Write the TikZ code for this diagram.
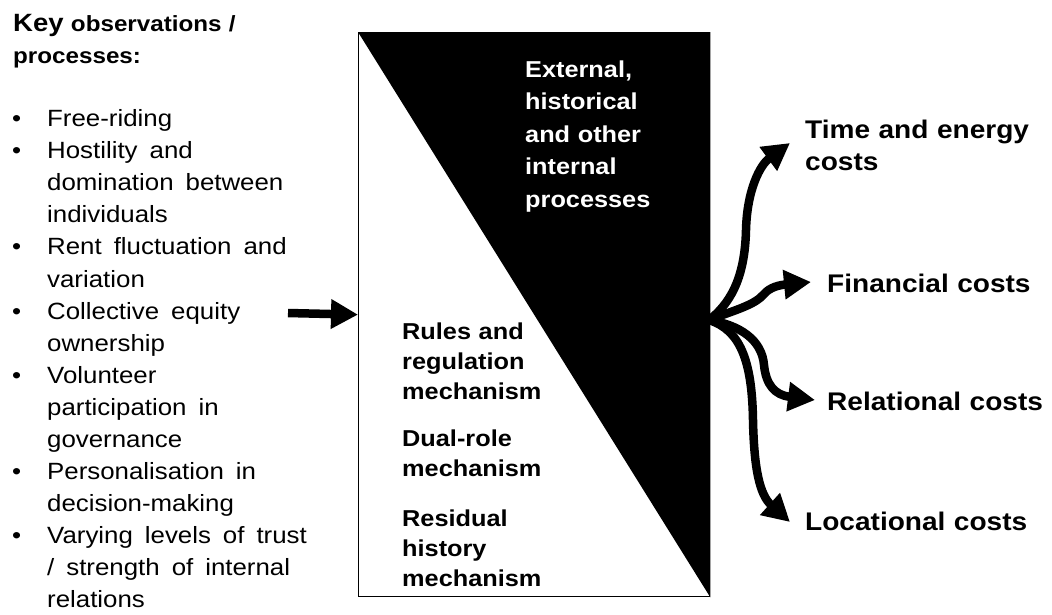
\documentclass[tikz,border=0pt]{standalone}
\usepackage{fontspec}
\setmainfont{Liberation Sans}[FakeStretch=1.1]
\usetikzlibrary{arrows.meta}
\newcommand\bul{\hangindent=44pt\hangafter=1\noindent\makebox[44pt][l]{\hspace{9pt}•}}
\begin{document}
\begin{tikzpicture}[x=1pt,y=-1pt,
  bigarrow/.style={line width=8.5pt,-{Triangle[length=27pt,width=28pt]}},
  blk/.style={anchor=base west,inner sep=0pt,text width=#1,align=left},
  lbl/.style={blk=240pt,font=\bfseries\fontsize{25.5}{32}\selectfont},
  mech/.style={blk=160pt,font=\bfseries\fontsize{23}{30}\selectfont},
  boxstyle/.style={draw,line width=1.3pt,minimum width=351pt,minimum height=564pt,anchor=north west,inner sep=0pt}
]
\useasboundingbox (0,0) rectangle (1052,614);
% heading
\node[blk=320pt,font=\bfseries\fontsize{22}{31.5}\selectfont] (head) at (13,31.7)
  {{\fontsize{25}{31.5}\selectfont Key} observations /\\processes:};
% list
\node[blk=330pt,font=\fontsize{23.5}{32.07}\selectfont] (obs) at (3,126.7) {\spaceskip=12pt plus 2pt\relax
\bul Free-riding\par
\bul Hostility and\newline domination between\newline individuals\par
\bul Rent fluctuation and\newline variation\par
\bul Collective equity\newline ownership\par
\bul Volunteer\newline participation in\newline governance\par
\bul Personalisation in\newline decision-making\par
\bul Varying levels of trust\newline / strength of internal\newline relations\par};
% central box
\node[boxstyle] (box) at (358,32) {};
\fill (box.north west) -- (box.north east) -- (box.south east) -- cycle;
\node[blk=170pt,text=white,font=\bfseries\fontsize{23}{32.5}\selectfont] (ext) at (525,77)
  {External,\\historical\\and other\\internal\\processes};
\node[mech] (rules) at (402,339) {Rules and\\regulation\\mechanism};
\node[mech] (dual) at (402,446) {Dual-role\\mechanism};
\node[mech] (resid) at (402,526) {Residual\\history\\mechanism};
% input arrow
\coordinate (in) at (288,313);
\draw[bigarrow] (in) -- (box.west);
% outputs
\node[lbl] (time) at (805,138) {Time and energy\\costs};
\node[lbl] (fin) at (827,292) {Financial costs};
\node[lbl] (rel) at (827,410) {Relational costs};
\node[lbl] (loc) at (805,530) {Locational costs};
\coordinate (fan) at (709,320);
\coordinate (t1) at (790,143);
\coordinate (t2) at (811,282);
\coordinate (t3) at (815,400);
\coordinate (t4) at (790,522);
\draw[bigarrow] (fan) .. controls (735,300) and (745,270) .. (746,230) .. controls (747,190) and (760,165) .. (t1);
\draw[bigarrow] (fan) .. controls (735,310) and (755,305) .. (764,294) .. controls (770,287) and (780,285) .. (t2);
\draw[bigarrow] (fan) .. controls (740,325) and (762,340) .. (764,365) .. controls (766,385) and (775,395) .. (t3);
\draw[bigarrow] (fan) .. controls (740,330) and (752,360) .. (753,420) .. controls (754,470) and (760,495) .. (t4);
\end{tikzpicture}
\end{document}
